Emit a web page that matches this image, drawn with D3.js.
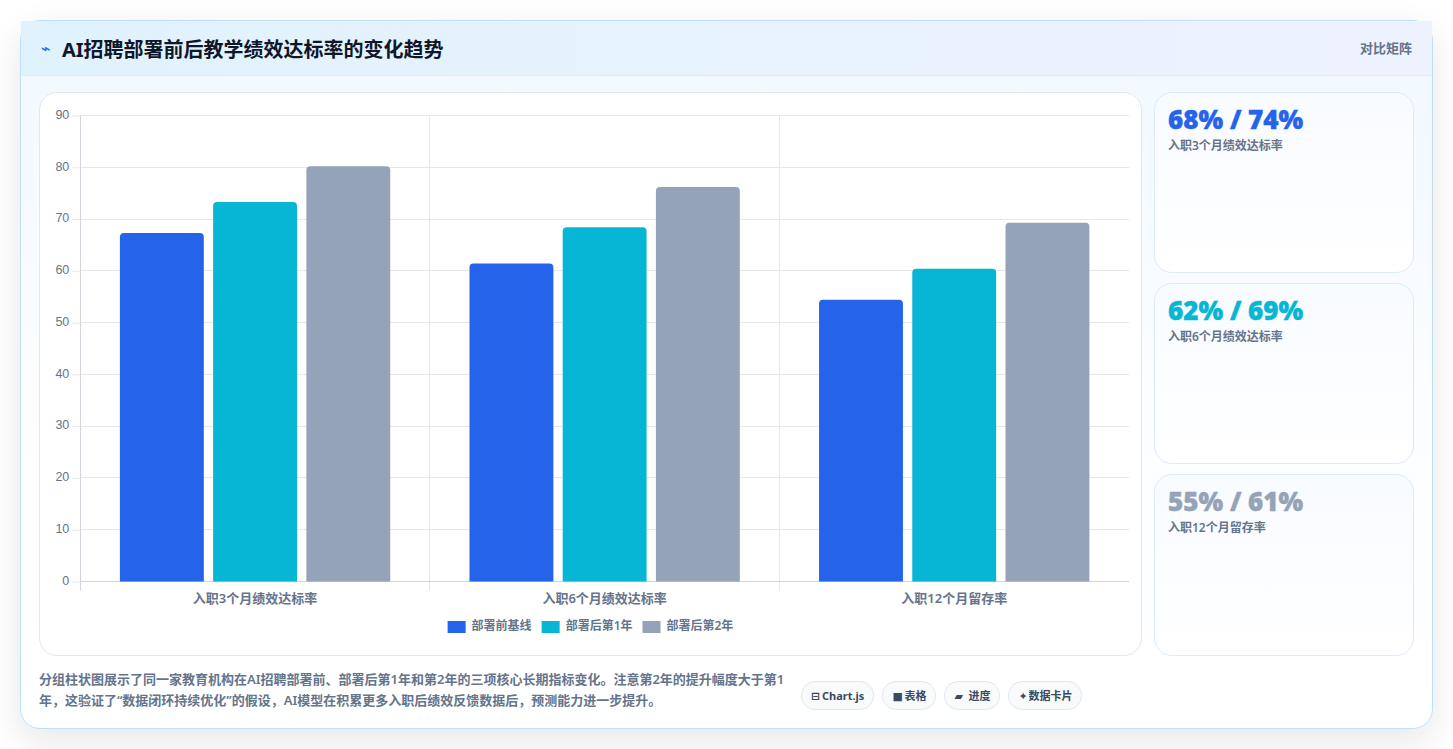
<!DOCTYPE html>
<html lang="zh-CN">
<head>
<meta charset="utf-8">
<title>AI招聘部署前后教学绩效达标率的变化趋势</title>
<script src="https://cdn.jsdelivr.net/npm/d3@7/dist/d3.min.js"></script>
<style>
  html, body { margin: 0; padding: 0; width: 1453px; height: 749px; overflow: hidden; background: #fff;
    font-family: "Noto Sans", "Noto Sans CJK SC", sans-serif; }
  .card { position: absolute; left: 20px; top: 20px; width: 1411px; height: 707px; border: 1px solid #bfdff7;
    border-radius: 20px; background: linear-gradient(180deg, #f0f8ff 0%, #fbfdff 50%, #ffffff 100%);
    box-shadow: 0 12px 36px rgba(15, 23, 42, 0.10); }
  .head { position: absolute; left: 0; top: 0; width: 1411px; height: 54px; border-bottom: 1px solid #dbeafe;
    background: linear-gradient(90deg, #e0f2fe 0%, #eef2ff 100%); }
  .bolt { position: absolute; left: 20px; top: 18px; font: 700 16px "DejaVu Sans"; color: #2563eb; }
  .title { position: absolute; left: 41px; top: 14px; font-size: 20px; line-height: 30px; font-weight: 700; color: #0f172a; white-space: nowrap; }
  .mode { position: absolute; right: 20px; top: 17px; font-size: 13px; line-height: 20px; font-weight: 600; color: #64748b; }
  .panel { position: absolute; left: 18px; top: 71px; width: 1101px; height: 562px; background: #fff;
    border: 1px solid #e2e8f0; border-radius: 18px; }
  svg { position: absolute; left: 0; top: 0; }
  .stat { position: absolute; left: 1133px; width: 258px; border: 1px solid #dbeafe; border-radius: 18px;
    background: linear-gradient(180deg, #f8fbff 0%, #ffffff 100%); }
  .stat b { position: absolute; left: 13px; top: 8px; font-family: "Open Sans", sans-serif; font-size: 26px; line-height: 36px; font-weight: 800; white-space: nowrap; -webkit-text-stroke: 0.4px currentColor; }
  .stat span { position: absolute; left: 13px; top: 44px; font-size: 12px; line-height: 18px; font-weight: 600; color: #64748b; white-space: nowrap; }
  .note { position: absolute; left: 18px; top: 648px; width: 760px; font-size: 13px; line-height: 21px; font-weight: 600; color: #64748b; }
  .tags { position: absolute; left: 780px; top: 660px; display: flex; gap: 8px; }
  .tag { height: 27px; line-height: 27px; padding: 0 9px; border: 1px solid #e2e8f0; border-radius: 14px; background: #f8fafc;
    font-size: 11px; font-weight: 700; color: #3b4a60; white-space: nowrap; }
  .tag i { display: inline-block; font: 700 11px "DejaVu Sans"; }
  .tag:nth-child(1) i { width: 11px; }
  .tag:nth-child(2) i { width: 12px; }
  .tag:nth-child(3) i { width: 14px; }
  .tag:nth-child(4) i { width: 10px; }
</style>
</head>
<body>
<div class="card" id="card">
  <div class="head">
    <div class="bolt">⌁</div>
    <div class="title">AI招聘部署前后教学绩效达标率的变化趋势</div>
    <div class="mode">对比矩阵</div>
  </div>
  <div class="panel"></div>
  <div class="note" id="note"></div>
  <div class="tags" id="tags"></div>
</div>
<script>
// Chart content
const categories = ["入职3个月绩效达标率", "入职6个月绩效达标率", "入职12个月留存率"];
const seriesNames = ["部署前基线", "部署后第1年", "部署后第2年"];
const seriesColors = ["#2563eb", "#06b6d4", "#94a3b8"];
const baseline = [67.3, 61.4, 54.4];
const yearOne = [73.3, 68.4, 60.4];
const yearTwo = [80.2, 76.2, 69.3];
const seriesValues = [baseline, yearOne, yearTwo];
const yTicks = [0, 10, 20, 30, 40, 50, 60, 70, 80, 90];
const statTexts = ["68% / 74%", "62% / 69%", "55% / 61%"];
const statTops = [71, 262, 453];
const statHeights = [179, 179, 180];
const noteText = "分组柱状图展示了同一家教育机构在AI招聘部署前、部署后第1年和第2年的三项核心长期指标变化。注意第2年的提升幅度大于第1年，这验证了“数据闭环持续优化”的假设，AI模型在积累更多入职后绩效反馈数据后，预测能力进一步提升。";
const tagIcons = ["⊟", "■", "▰", "✦"];
const tagTexts = ["Chart.js", "表格", "进度", "数据卡片"];

// Summary cards, footer note and tool tags
const card = d3.select("#card");
categories.forEach((c, i) => {
  const s = card.append("div").attr("class", "stat")
    .style("top", statTops[i] + "px").style("height", statHeights[i] + "px");
  s.append("b").style("color", seriesColors[i]).text(statTexts[i]);
  s.append("span").text(c);
});
d3.select("#note").text(noteText);
const tags = d3.select("#tags").selectAll("div").data(tagTexts).join("div").attr("class", "tag");
tags.append("i").text((d, i) => tagIcons[i]);
tags.append("span").text(d => d);

// Grouped bar chart
const plot = { left: 80.3, right: 1129, top: 115.5, bottom: 581.5 };
const panelCentre = 590.5;
const gridColor = "#e5e7eb";
const axisColor = "#d1d5db";
const svg = d3.select("body").append("svg").attr("width", 1453).attr("height", 749);
const x = d3.scaleBand().domain(d3.range(categories.length)).range([plot.left, plot.right]);
const y = d3.scaleLinear().domain([0, 90]).range([plot.bottom, plot.top]);
const inner = d3.scaleBand().domain(d3.range(seriesNames.length))
  .range([x.bandwidth() * 0.1, x.bandwidth() * 0.9]).paddingInner(0.1).paddingOuter(0.05);

// Value axis: tick stubs and labels left of the plot
svg.append("g").attr("transform", `translate(${plot.left},0)`)
  .call(d3.axisLeft(y).tickValues(yTicks).tickSize(8).tickPadding(3))
  .call(g => g.select(".domain").remove())
  .call(g => g.selectAll("line").attr("stroke", gridColor))
  .call(g => g.selectAll("text").attr("fill", "#64748b").attr("dy", "0.22em")
    .style("font", "12.5px 'Liberation Sans'"));

// Horizontal grid
svg.append("g").selectAll("line").data(yTicks.filter(d => d > 0)).join("line")
  .attr("x1", plot.left).attr("x2", plot.right)
  .attr("y1", d => y(d)).attr("y2", d => y(d)).attr("stroke", gridColor)
  .attr("shape-rendering", "crispEdges");

// Vertical grid at category boundaries, running past the baseline
const edges = d3.range(categories.length).map(i => Math.floor(plot.left + i * x.step()) + 0.5);
svg.append("g").selectAll("line").data(edges).join("line")
  .attr("x1", d => d).attr("x2", d => d)
  .attr("y1", plot.top).attr("y2", plot.bottom + 9)
  .attr("stroke", (d, i) => i === 0 ? axisColor : gridColor);
svg.append("line").attr("x1", plot.left).attr("x2", plot.right)
  .attr("y1", plot.bottom).attr("y2", plot.bottom).attr("stroke", axisColor);

// Bars with rounded top corners
const topRounded = (bx, by, w, h, r) =>
  `M${bx},${by + h}V${by + r}Q${bx},${by} ${bx + r},${by}H${bx + w - r}Q${bx + w},${by} ${bx + w},${by + r}V${by + h}Z`;
svg.append("g").selectAll("g").data(seriesValues).join("g")
  .attr("fill", (d, i) => seriesColors[i])
  .each(function (vals, s) {
    d3.select(this).selectAll("path").data(vals).join("path")
      .attr("d", (v, c) => topRounded(x(c) + inner(s), y(v), inner.bandwidth(), y(0) - y(v), 4));
  });

// Category labels
svg.append("g").selectAll("text").data(categories).join("text")
  .attr("x", (d, i) => x(i) + x.bandwidth() / 2).attr("y", 603)
  .attr("text-anchor", "middle").attr("fill", "#64748b")
  .style("font-size", "13px").style("font-weight", 600).text(d => d);

// Legend, centred in the chart panel
const legend = svg.append("g");
const entries = legend.selectAll("g").data(seriesNames).join("g");
entries.append("rect").attr("width", 18).attr("height", 12).attr("y", 621).attr("fill", (d, i) => seriesColors[i]);
entries.append("text").attr("x", 24).attr("y", 630).attr("fill", "#64748b")
  .style("font-size", "12px").style("font-weight", 600).text(d => d);
let cursor = 0;
const offsets = [];
entries.select("text").each(function () {
  offsets.push(cursor);
  cursor += 24 + this.getComputedTextLength() + 10;
});
const legendStart = panelCentre - (cursor - 10) / 2;
entries.attr("transform", (d, i) => `translate(${legendStart + offsets[i]},0)`);
</script>
</body>
</html>
